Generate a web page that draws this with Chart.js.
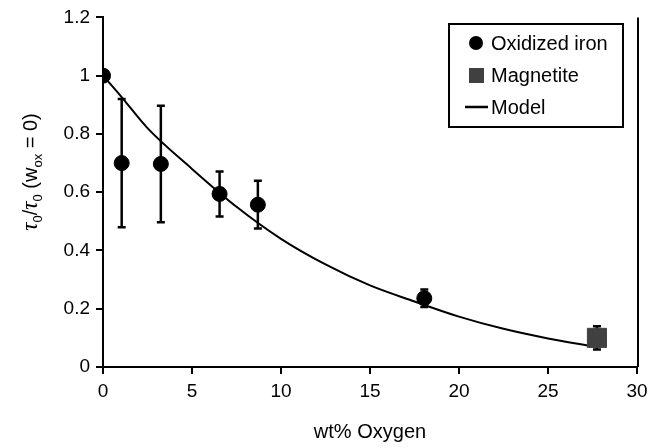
<!DOCTYPE html>
<html>
<head>
<meta charset="utf-8">
<script src="https://cdn.jsdelivr.net/npm/chart.js@4.4.0/dist/chart.umd.min.js"></script>
<style>
  html, body { margin: 0; padding: 0; background: #fff; }
  #wrap { width: 654px; height: 448px; }
</style>
</head>
<body>
<div id="wrap"><canvas id="chart" width="654" height="448"></canvas></div>
<script>
// Oxidized iron measurements
const oxX = [0, 1.05, 3.25, 6.55, 8.7, 18.05];
const oxY = [1.0, 0.70, 0.697, 0.594, 0.557, 0.236];
const oxErr = [0, 0.22, 0.20, 0.077, 0.082, 0.03];

// Magnetite
const magX = [27.75];
const magY = [0.10];
const magErr = [0.04];

// Model curve
const modelX = [0, 1, 2.5, 5, 7.5, 10, 12.5, 15, 17.5, 20, 22.5, 25, 27.5];
const modelY = [1.0, 0.93, 0.82, 0.68, 0.55, 0.44, 0.352, 0.28, 0.225, 0.173, 0.131, 0.098, 0.071];

const xTicks = [0, 5, 10, 15, 20, 25, 30];
const yTicks = [0, 0.2, 0.4, 0.6, 0.8, 1, 1.2];

const FONT = "'Liberation Sans', Arial, sans-serif";

function toPts(xs, ys) {
    return xs.map((x, i) => ({ x: x, y: ys[i] }));
}

// error bars (behind markers), right frame line, y title and legend
const extras = {
    id: "extras",
    beforeDatasetsDraw(chart) {
        const ctx = chart.ctx;
        const xs = chart.scales.x, ys = chart.scales.y;
        ctx.save();
        ctx.strokeStyle = "#000";
        ctx.lineWidth = 2.5;
        const bars = [[oxX, oxY, oxErr], [magX, magY, magErr]];
        bars.forEach(([bx, by, be]) => {
            bx.forEach((x, i) => {
                if (!be[i]) return;
                const px = xs.getPixelForValue(x);
                const top = ys.getPixelForValue(by[i] + be[i]);
                const bot = ys.getPixelForValue(by[i] - be[i]);
                ctx.beginPath();
                ctx.moveTo(px, top); ctx.lineTo(px, bot);
                ctx.moveTo(px - 4, top); ctx.lineTo(px + 4, top);
                ctx.moveTo(px - 4, bot); ctx.lineTo(px + 4, bot);
                ctx.stroke();
            });
        });
        ctx.restore();
    },
    afterDraw(chart) {
        const ctx = chart.ctx;
        const area = chart.chartArea;
        ctx.save();
        // right frame
        ctx.strokeStyle = "#000";
        ctx.lineWidth = 2;
        ctx.beginPath();
        ctx.moveTo(area.right + 1, area.top);
        ctx.lineTo(area.right + 1, area.bottom);
        ctx.stroke();

        // y title with subscripts
        ctx.translate(30, 172);
        ctx.rotate(-Math.PI / 2);
        const parts = [
            ["τ", "italic 23px 'Liberation Serif', serif", 0],
            ["0", "13px " + FONT, 5],
            ["/", "20px " + FONT, 0],
            ["τ", "italic 23px 'Liberation Serif', serif", 0],
            ["0", "13px " + FONT, 5],
            [" (w", "20px " + FONT, 0],
            ["ox", "13px " + FONT, 5],
            [" = 0)", "20px " + FONT, 0]
        ];
        let total = 0;
        parts.forEach(p => { ctx.font = p[1]; total += ctx.measureText(p[0]).width; });
        let cx = -total / 2;
        ctx.fillStyle = "#000";
        ctx.textBaseline = "alphabetic";
        parts.forEach(p => {
            ctx.font = p[1];
            ctx.fillText(p[0], cx, 7 + p[2]);
            cx += ctx.measureText(p[0]).width;
        });
        ctx.restore();

        // legend box
        ctx.save();
        ctx.strokeStyle = "#000";
        ctx.lineWidth = 2;
        ctx.strokeRect(449, 24, 174, 103);
        ctx.font = "20px " + FONT;
        ctx.fillStyle = "#000";
        ctx.textBaseline = "middle";
        const ds = chart.data.datasets;
        const rows = [43, 75, 107];
        ds.forEach((d, i) => {
            const y = rows[i];
            if (d.showLine) {
                ctx.strokeStyle = d.borderColor;
                ctx.lineWidth = 2.5;
                ctx.beginPath();
                ctx.moveTo(465, y); ctx.lineTo(488, y);
                ctx.stroke();
            } else if (d.pointStyle === "rect") {
                ctx.fillStyle = d.backgroundColor;
                ctx.fillRect(469, y - 7, 15, 15);
            } else {
                ctx.fillStyle = d.backgroundColor;
                ctx.beginPath();
                ctx.arc(476, y, 7, 0, Math.PI * 2);
                ctx.fill();
            }
            ctx.fillStyle = "#000";
            ctx.fillText(d.label, 491, y + 1);
        });
        ctx.restore();
    }
};

new Chart(document.getElementById("chart"), {
    type: "scatter",
    data: {
        datasets: [
            {
                label: "Oxidized iron",
                data: toPts(oxX, oxY),
                backgroundColor: "#000",
                borderColor: "#000",
                pointRadius: 7.5,
                pointStyle: "circle",
                order: 1
            },
            {
                label: "Magnetite",
                data: toPts(magX, magY),
                backgroundColor: "#404040",
                borderColor: "#404040",
                pointRadius: 13.5,
                pointStyle: "rect",
                order: 1
            },
            {
                label: "Model",
                data: toPts(modelX, modelY),
                showLine: true,
                borderColor: "#000",
                borderWidth: 2,
                pointRadius: 0,
                cubicInterpolationMode: "monotone",
                order: 2
            }
        ]
    },
    options: {
        responsive: false,
        animation: false,
        layout: { padding: { top: 12, right: 17, left: 0, bottom: 0 } },
        plugins: {
            legend: { display: false },
            tooltip: { enabled: false }
        },
        scales: {
            x: {
                type: "linear",
                min: 0, max: 30,
                afterBuildTicks: s => { s.ticks = xTicks.map(v => ({ value: v })); },
                afterFit: s => { s.height = 81; },
                ticks: { color: "#000", font: { size: 19, family: FONT }, padding: 6, maxRotation: 0 },
                grid: { drawOnChartArea: false, drawTicks: true, tickLength: 7, color: "#000", lineWidth: 2 },
                border: { color: "#000", width: 2 },
                title: { display: true, text: "wt% Oxygen", color: "#000", font: { size: 20, family: FONT }, padding: { top: 6 } }
            },
            y: {
                type: "linear",
                min: 0, max: 1.2,
                afterBuildTicks: s => { s.ticks = yTicks.map(v => ({ value: v })); },
                afterFit: s => { s.width = 103; },
                ticks: {
                    color: "#000", font: { size: 19, family: FONT }, padding: 6,
                    callback: v => String(Math.round(v * 10) / 10)
                },
                grid: { drawOnChartArea: false, drawTicks: true, tickLength: 7, color: "#000", lineWidth: 2 },
                border: { color: "#000", width: 2 }
            }
        }
    },
    plugins: [extras]
});
</script>
</body>
</html>
